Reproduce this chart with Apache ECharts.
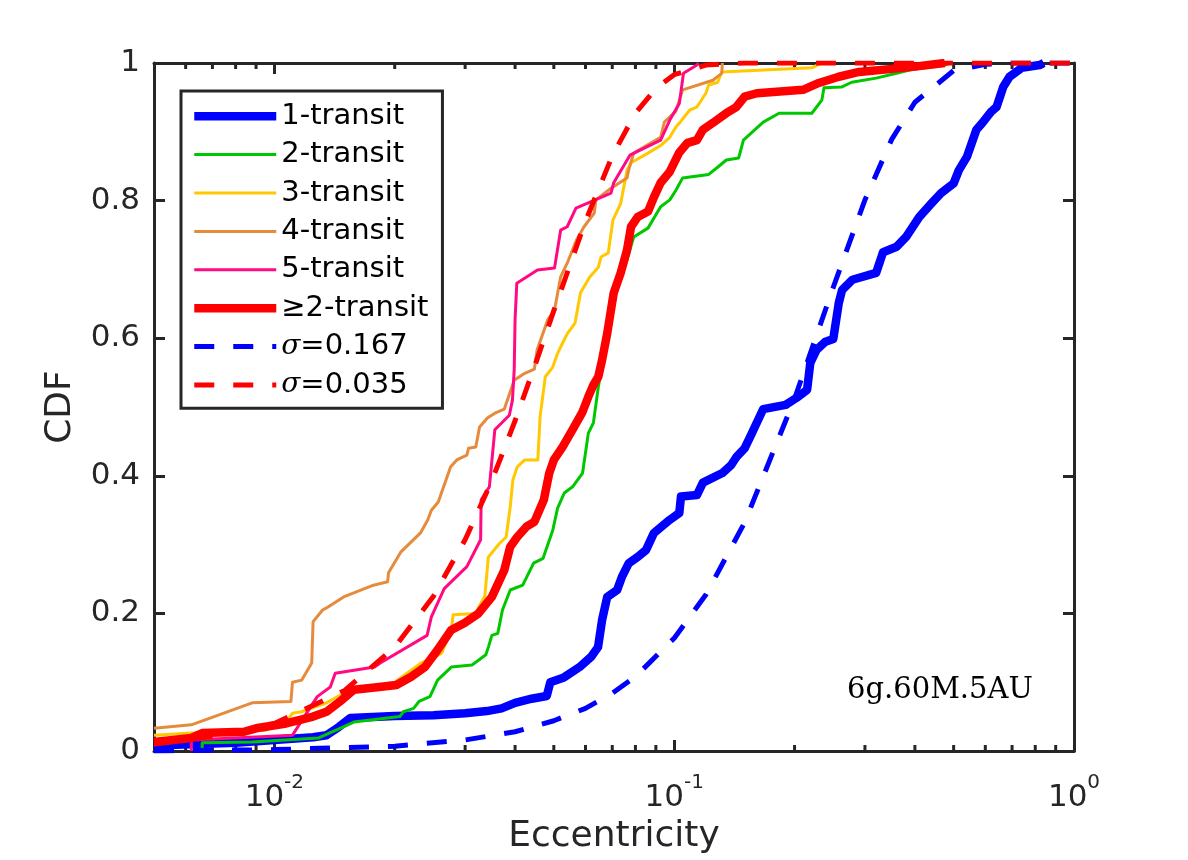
<!DOCTYPE html>
<html>
<head>
<meta charset="utf-8">
<title>Eccentricity CDF</title>
<script src="https://cdn.jsdelivr.net/npm/echarts@6/dist/echarts.min.js"></script>
<style>
html, body { margin: 0; padding: 0; background: #fff; }
#chart { width: 1188px; height: 860px; }
</style>
</head>
<body>
<div id="chart"></div>
<script>
// [eccentricity, CDF]
var oneTransit = [[0.005, 0.008], [0.008, 0.012], [0.0125, 0.02], [0.0135, 0.023], [0.0145, 0.035], [0.0155, 0.048],
    [0.02, 0.051], [0.025, 0.052], [0.03, 0.055], [0.034, 0.058], [0.037, 0.062], [0.04, 0.07], [0.044, 0.076],
    [0.048, 0.08], [0.049, 0.1], [0.053, 0.107], [0.058, 0.122], [0.062, 0.137], [0.0645, 0.151], [0.066, 0.19],
    [0.068, 0.224], [0.072, 0.234], [0.074, 0.253], [0.077, 0.273], [0.081, 0.282], [0.085, 0.292], [0.089, 0.317],
    [0.0975, 0.336], [0.103, 0.346], [0.104, 0.37], [0.114, 0.372], [0.118, 0.39], [0.132, 0.404], [0.139, 0.416],
    [0.143, 0.427], [0.15, 0.44], [0.155, 0.457], [0.167, 0.497], [0.19, 0.503], [0.202, 0.513], [0.215, 0.525],
    [0.219, 0.564], [0.227, 0.583], [0.239, 0.595], [0.25, 0.599], [0.258, 0.651], [0.263, 0.67], [0.279, 0.685],
    [0.32, 0.695], [0.333, 0.725], [0.36, 0.733], [0.38, 0.747], [0.41, 0.776], [0.44, 0.796], [0.465, 0.811],
    [0.5, 0.825], [0.515, 0.844], [0.54, 0.864], [0.57, 0.903], [0.59, 0.913], [0.62, 0.929], [0.64, 0.936],
    [0.665, 0.965], [0.69, 0.98], [0.74, 0.993], [0.82, 0.997], [0.84, 1.0]];

var twoTransit = [[0.0066, 0.0], [0.0066, 0.012], [0.0088, 0.013], [0.0129, 0.019], [0.0146, 0.033], [0.0158, 0.042],
    [0.0206, 0.05], [0.021, 0.057], [0.0223, 0.062], [0.023, 0.072], [0.0245, 0.079], [0.0256, 0.103], [0.0277, 0.122],
    [0.0312, 0.125], [0.0324, 0.132], [0.0338, 0.14], [0.0343, 0.151], [0.035, 0.168], [0.0362, 0.171], [0.0372, 0.205],
    [0.0389, 0.234], [0.0418, 0.241], [0.0445, 0.273], [0.047, 0.28], [0.0497, 0.321], [0.0511, 0.353], [0.0531, 0.375],
    [0.0557, 0.384], [0.059, 0.404], [0.061, 0.462], [0.0628, 0.477], [0.0646, 0.529], [0.066, 0.558], [0.068, 0.593],
    [0.0684, 0.612], [0.0706, 0.666], [0.0762, 0.714], [0.0792, 0.747], [0.086, 0.76], [0.0925, 0.791], [0.0975, 0.801],
    [0.101, 0.815], [0.105, 0.833], [0.122, 0.838], [0.13, 0.851], [0.135, 0.859], [0.145, 0.862], [0.149, 0.888],
    [0.167, 0.914], [0.183, 0.927], [0.221, 0.927], [0.234, 0.946], [0.237, 0.964], [0.262, 0.965], [0.278, 0.972],
    [0.32, 0.978], [0.36, 0.985], [0.39, 0.99], [0.475, 0.997], [0.49, 1.0]];

var threeTransit = [[0.005, 0.023], [0.0062, 0.026], [0.0095, 0.03], [0.0108, 0.045], [0.0111, 0.055], [0.0117, 0.057],
    [0.0135, 0.07], [0.0146, 0.081], [0.016, 0.09], [0.02, 0.1], [0.0233, 0.128], [0.0253, 0.137], [0.0262, 0.142],
    [0.0277, 0.176], [0.028, 0.198], [0.0318, 0.2], [0.0336, 0.225], [0.0343, 0.282], [0.0366, 0.302], [0.038, 0.311],
    [0.0389, 0.355], [0.0395, 0.394], [0.0405, 0.413], [0.0423, 0.423], [0.0456, 0.423], [0.0462, 0.486], [0.0476, 0.544],
    [0.0497, 0.558], [0.0511, 0.578], [0.0526, 0.593], [0.0541, 0.607], [0.0565, 0.622], [0.0583, 0.666], [0.0615, 0.689],
    [0.0646, 0.703], [0.0656, 0.718], [0.0684, 0.724], [0.0703, 0.772], [0.0735, 0.796], [0.0762, 0.844], [0.078, 0.855],
    [0.086, 0.869], [0.0925, 0.88], [0.0975, 0.892], [0.101, 0.907], [0.1035, 0.914], [0.1095, 0.932], [0.114, 0.936],
    [0.12, 0.956], [0.122, 0.968], [0.1285, 0.972], [0.1315, 0.987], [0.221, 0.993], [0.228, 0.997], [0.235, 1.0]];

var fourTransit = [[0.005, 0.033], [0.0062, 0.038], [0.0088, 0.07], [0.011, 0.072], [0.0111, 0.1], [0.0117, 0.103],
    [0.0124, 0.128], [0.0125, 0.188], [0.0132, 0.205], [0.0135, 0.208], [0.0149, 0.224], [0.0177, 0.241], [0.0192, 0.246],
    [0.0193, 0.259], [0.0207, 0.289], [0.0232, 0.317], [0.0242, 0.336], [0.0247, 0.35], [0.0257, 0.362], [0.0276, 0.413],
    [0.0286, 0.423], [0.0303, 0.43], [0.0306, 0.44], [0.0319, 0.442], [0.0326, 0.471], [0.0341, 0.484], [0.0356, 0.491],
    [0.0376, 0.497], [0.0398, 0.539], [0.0423, 0.549], [0.0447, 0.555], [0.0454, 0.583], [0.0483, 0.627], [0.0502, 0.641],
    [0.052, 0.689], [0.054, 0.709], [0.057, 0.743], [0.0595, 0.762], [0.0631, 0.782], [0.0637, 0.801], [0.0695, 0.818],
    [0.0762, 0.833], [0.077, 0.845], [0.0792, 0.869], [0.0876, 0.884], [0.0925, 0.892], [0.0945, 0.914], [0.101, 0.93],
    [0.105, 0.961], [0.125, 0.975], [0.1315, 0.985], [0.132, 1.0]];

var fiveTransit = [[0.0062, 0.0], [0.0062, 0.016], [0.0111, 0.023], [0.0113, 0.03], [0.0128, 0.079], [0.0138, 0.093],
    [0.0142, 0.113], [0.0178, 0.122], [0.0184, 0.128], [0.0241, 0.168], [0.0247, 0.195], [0.0266, 0.236], [0.0303, 0.268],
    [0.0328, 0.307], [0.0329, 0.365], [0.0345, 0.384], [0.0356, 0.467], [0.0387, 0.488], [0.0394, 0.51], [0.0398, 0.554],
    [0.04, 0.627], [0.0404, 0.68], [0.0455, 0.699], [0.0502, 0.702], [0.052, 0.757], [0.054, 0.762], [0.0568, 0.789],
    [0.0695, 0.811], [0.0706, 0.826], [0.0775, 0.866], [0.0925, 0.888], [0.0975, 0.917], [0.103, 0.941], [0.1055, 0.985],
    [0.114, 0.997], [0.115, 1.0]];

var geTwoTransit = [[0.005, 0.013], [0.0062, 0.019], [0.0066, 0.026], [0.0084, 0.028], [0.009, 0.033], [0.0107, 0.04],
    [0.0125, 0.05], [0.0135, 0.057], [0.0146, 0.072], [0.0158, 0.089], [0.0183, 0.093], [0.0202, 0.096], [0.022, 0.108],
    [0.0238, 0.122], [0.0256, 0.147], [0.0277, 0.176], [0.0299, 0.186], [0.0324, 0.2], [0.035, 0.224], [0.0376, 0.263],
    [0.0389, 0.297], [0.0405, 0.311], [0.0427, 0.326], [0.0447, 0.333], [0.0472, 0.365], [0.0487, 0.404], [0.05, 0.423],
    [0.0526, 0.442], [0.0557, 0.467], [0.059, 0.493], [0.061, 0.515], [0.0628, 0.532], [0.0646, 0.544], [0.066, 0.568],
    [0.068, 0.607], [0.0706, 0.666], [0.0735, 0.695], [0.0762, 0.728], [0.078, 0.762], [0.081, 0.776], [0.086, 0.784],
    [0.089, 0.805], [0.0925, 0.826], [0.0975, 0.842], [0.103, 0.87], [0.108, 0.884], [0.114, 0.888], [0.118, 0.903],
    [0.125, 0.913], [0.135, 0.927], [0.143, 0.936], [0.15, 0.951], [0.161, 0.956], [0.21, 0.961], [0.23, 0.971],
    [0.258, 0.98], [0.29, 0.987], [0.39, 0.994], [0.475, 1.0]];

// dashed reference curves, read at a few eccentricities
var sigmaWide = [[0.005, 0.0], [0.01, 0.002], [0.02, 0.007], [0.03, 0.016], [0.04, 0.028], [0.05, 0.044], [0.06, 0.062],
    [0.07, 0.084], [0.08, 0.108], [0.1, 0.164], [0.12, 0.227], [0.15, 0.332], [0.2, 0.512], [0.25, 0.674], [0.3, 0.801],
    [0.35, 0.889], [0.4, 0.943], [0.5, 0.989], [0.6, 0.998], [0.7, 1.0], [1.0, 1.0]];
var sigmaNarrow = [[0.005, 0.01], [0.008, 0.026], [0.01, 0.04], [0.015, 0.088], [0.02, 0.151], [0.025, 0.225],
    [0.03, 0.307], [0.035, 0.393], [0.04, 0.48], [0.045, 0.563], [0.05, 0.64], [0.06, 0.77], [0.07, 0.865], [0.08, 0.927],
    [0.09, 0.963], [0.1, 0.983], [0.12, 0.997], [0.15, 1.0], [1.0, 1.0]];

var minorTicks = [0.006, 0.007, 0.008, 0.009, 0.02, 0.03, 0.04, 0.05, 0.06, 0.07, 0.08, 0.09,
    0.2, 0.3, 0.4, 0.5, 0.6, 0.7, 0.8, 0.9];
var runLabel = '6g.60M.5AU';

var axisColor = '#262626';
var sans = 'DejaVu Sans';

var chart = echarts.init(document.getElementById('chart'), null, { renderer: 'canvas' });

function logLabel(v) {
    var l = Math.log10(v);
    var p = Math.round(l);
    if (Math.abs(l - p) > 1e-6) return '';
    return '{b|10}{e|' + p + '}';
}

function curve(name, data, color, width, dash) {
    return {
        name: name,
        type: 'line',
        data: data,
        symbol: 'none',
        silent: true,
        lineStyle: { color: color, width: width, type: dash || 'solid', cap: 'butt', join: 'round' },
        itemStyle: { color: color }
    };
}

var xBase = {
    type: 'log', logBase: 10, min: 0.005, max: 1,
    axisLine: { onZero: false, lineStyle: { color: axisColor, width: 3 } },
    axisTick: { inside: true, length: 11, lineStyle: { color: axisColor, width: 3 } },
    splitLine: { show: false },
    minorTick: { show: false }
};

var option = {
    backgroundColor: '#fff',
    animation: false,
    grid: { left: 154, right: 114, top: 63, bottom: 109 },
    xAxis: [
        echarts.util.merge({
            position: 'bottom',
            name: 'Eccentricity', nameLocation: 'middle', nameGap: 68,
            nameTextStyle: { fontSize: 36, fontFamily: sans, color: axisColor },
            axisLabel: {
                margin: 22, formatter: logLabel,
                rich: {
                    b: { fontSize: 31, fontFamily: sans, color: axisColor, lineHeight: 40, verticalAlign: 'bottom' },
                    e: { fontSize: 20, fontFamily: sans, color: axisColor, lineHeight: 20, verticalAlign: 'top' }
                }
            }
        }, xBase, true),
        echarts.util.merge({ position: 'top', axisLabel: { show: false } }, xBase, true)
    ],
    yAxis: [{
        type: 'value', min: 0, max: 1, interval: 0.2, position: 'left',
        name: 'CDF', nameLocation: 'middle', nameGap: 75,
        nameTextStyle: { fontSize: 36, fontFamily: sans, color: axisColor },
        axisLine: { show: true, onZero: false, lineStyle: { color: axisColor, width: 3 } },
        axisTick: { show: true, inside: true, length: 11, lineStyle: { color: axisColor, width: 3 } },
        axisLabel: { margin: 14, fontSize: 31, fontFamily: sans, color: axisColor },
        splitLine: { show: false }
    }, {
        type: 'value', min: 0, max: 1, interval: 0.2, position: 'right',
        axisLine: { show: true, onZero: false, lineStyle: { color: axisColor, width: 3 } },
        axisTick: { show: true, inside: true, length: 11, lineStyle: { color: axisColor, width: 3 } },
        axisLabel: { show: false },
        splitLine: { show: false }
    }],
    legend: {
        orient: 'vertical', left: 181, top: 91,
        padding: [6, 14, 4, 9],
        itemWidth: 82, itemHeight: 14, itemGap: 0,
        backgroundColor: '#fff', borderColor: axisColor, borderWidth: 3, borderRadius: 0,
        selectedMode: false,
        // line only, no marker in the key
        itemStyle: { opacity: 0, borderWidth: 0 },
        lineStyle: { width: 'inherit' },
        data: ['1-transit', '2-transit', '3-transit', '4-transit', '5-transit', '≥2-transit', 'σ=0.167', 'σ=0.035'],
        formatter: function (name) {
            if (name.charAt(0) === 'σ') return '{s|σ}{t|' + name.slice(1) + '}';
            return name;
        },
        textStyle: {
            fontSize: 29, fontFamily: sans, color: '#000', lineHeight: 38.4,
            rich: {
                s: { fontSize: 28, fontFamily: 'DejaVu Serif', fontStyle: 'italic', color: '#000', lineHeight: 38.4 },
                t: { fontSize: 29, fontFamily: sans, color: '#000', lineHeight: 38.4 }
            }
        }
    },
    graphic: [{
        type: 'text', left: 847, top: 676, silent: true,
        style: { text: runLabel, font: '29px "DejaVu Serif"', fill: '#000' }
    }],
    series: [
        curve('1-transit', oneTransit, '#0000ff', 8.5),
        curve('2-transit', twoTransit, '#00c800', 3),
        curve('3-transit', threeTransit, '#ffc800', 3),
        curve('4-transit', fourTransit, '#e68a3c', 3),
        curve('5-transit', fiveTransit, '#ff0a82', 3),
        curve('≥2-transit', geTwoTransit, '#ff0000', 8.5),
        curve('σ=0.167', sigmaWide, '#0000ff', 5, [20, 19]),
        curve('σ=0.035', sigmaNarrow, '#ff0000', 5, [20, 19]),
        {
            // minor ticks of the log axis, top and bottom
            name: 'minor', type: 'custom', silent: true, clip: false,
            data: minorTicks.map(function (v) { return [v, 0]; }),
            renderItem: function (params, api) {
                var b = api.coord([api.value(0), 0]);
                var t = api.coord([api.value(0), 1]);
                var st = { stroke: axisColor, lineWidth: 3 };
                return {
                    type: 'group',
                    children: [
                        { type: 'line', shape: { x1: b[0], y1: b[1], x2: b[0], y2: b[1] - 6 }, style: st },
                        { type: 'line', shape: { x1: t[0], y1: t[1], x2: t[0], y2: t[1] + 6 }, style: st }
                    ]
                };
            }
        }
    ]
};

chart.setOption(option);
</script>
</body>
</html>
